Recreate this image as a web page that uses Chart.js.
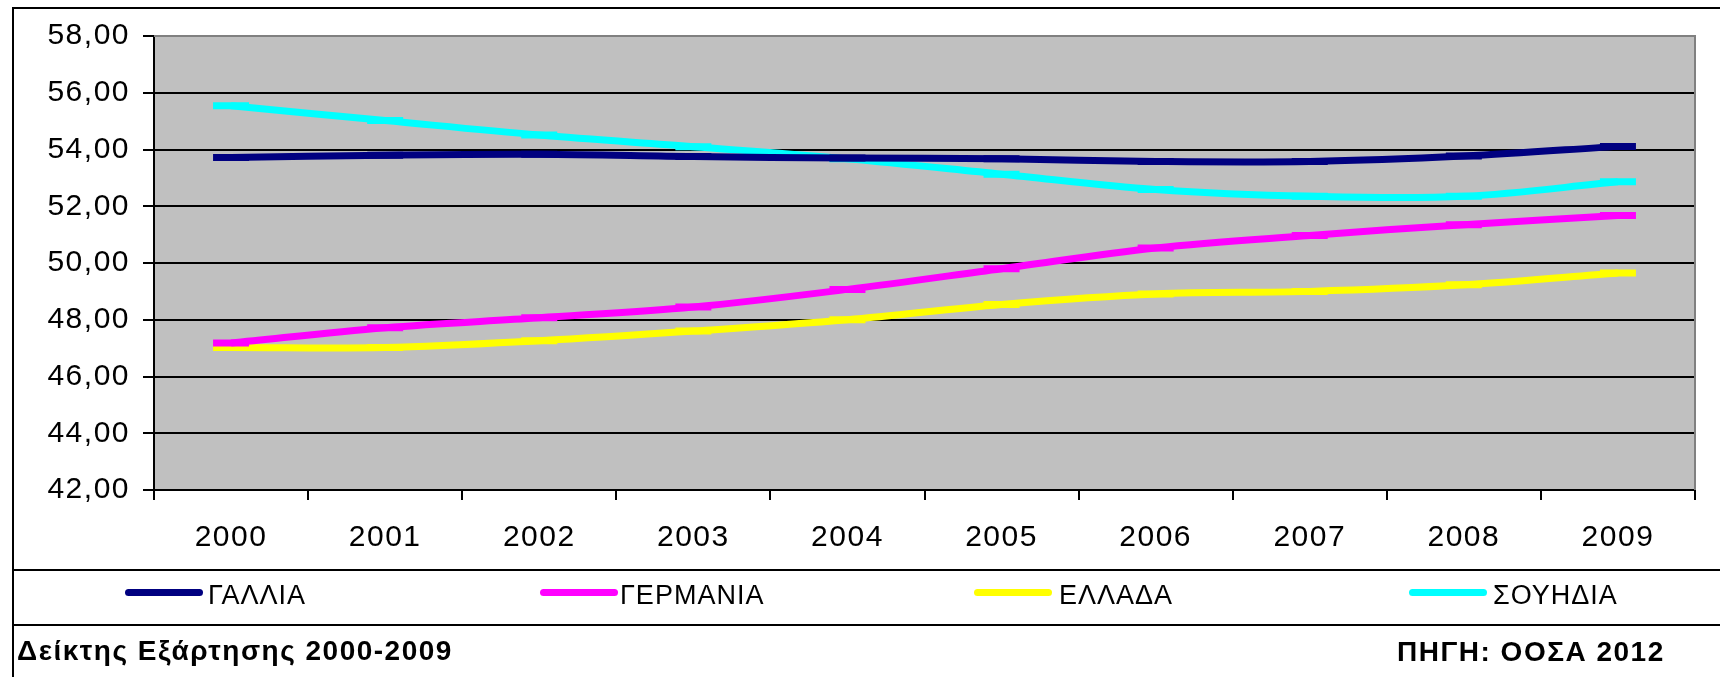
<!DOCTYPE html>
<html>
<head>
<meta charset="utf-8">
<script src="https://cdn.jsdelivr.net/npm/chart.js@4.4.1/dist/chart.umd.min.js"></script>
<style>
  html, body { margin: 0; padding: 0; background: #fff; width: 1720px; height: 677px; overflow: hidden; }
  #wrap { position: relative; width: 1720px; height: 677px; font-family: "Liberation Sans", Arial, sans-serif; }
  #c { position: absolute; left: 0; top: 0; }
  .rule { position: absolute; background: #000; }
  .leg-line { position: absolute; height: 7px; width: 78px; border-radius: 4px; }
  .leg-text { position: absolute; font-size: 27px; line-height: 27px; letter-spacing: 1px; color: #000; white-space: nowrap; }
  .foot { position: absolute; font-size: 28px; line-height: 28px; letter-spacing: 1.5px; font-weight: bold; color: #000; white-space: nowrap; }
</style>
</head>
<body>
<div id="wrap">
  <canvas id="c" width="1720" height="677"></canvas>
  <div class="rule" style="left:12px;top:7px;width:1708px;height:2px;"></div>
  <div class="rule" style="left:12px;top:7px;width:2px;height:670px;"></div>
  <div class="rule" style="left:12px;top:569px;width:1708px;height:2px;"></div>
  <div class="rule" style="left:12px;top:624px;width:1708px;height:2px;"></div>
  <div id="legend"></div>
  <div class="foot" style="left:17px;top:637px;">Δείκτης Εξάρτησης 2000-2009</div>
  <div class="foot" style="left:1397px;top:638px;">ΠΗΓΗ: ΟΟΣΑ 2012</div>
</div>
<script>
// ---- data ----
const categories = ['2000', '2001', '2002', '2003', '2004', '2005', '2006', '2007', '2008', '2009'];
const seriesNames = ['ΓΑΛΛΙΑ', 'ΓΕΡΜΑΝΙΑ', 'ΕΛΛΑΔΑ', 'ΣΟΥΗΔΙΑ'];
const seriesColors = ['#000080', '#FF00FF', '#FFFF00', '#00FFFF'];
const gallia   = [53.72, 53.80, 53.83, 53.75, 53.70, 53.67, 53.58, 53.58, 53.77, 54.11];
const germania = [47.18, 47.72, 48.07, 48.45, 49.07, 49.80, 50.53, 50.97, 51.35, 51.67];
const ellada   = [47.02, 47.02, 47.26, 47.60, 48.00, 48.54, 48.91, 49.00, 49.23, 49.65];
const souhdia  = [55.54, 55.02, 54.51, 54.10, 53.67, 53.13, 52.59, 52.35, 52.35, 52.86];
const seriesValues = [gallia, germania, ellada, souhdia];
const yMin = 42, yMax = 58, yStep = 2;

// ---- legend (HTML) ----
const legLineX = [125, 540, 974, 1409];
const legTextX = [208, 620, 1059, 1493];
const legend = document.getElementById('legend');
seriesNames.forEach((name, i) => {
  const l = document.createElement('div');
  l.className = 'leg-line';
  l.style.left = legLineX[i] + 'px';
  l.style.top = '589px';
  l.style.background = seriesColors[i];
  legend.appendChild(l);
  const t = document.createElement('div');
  t.className = 'leg-text';
  t.style.left = legTextX[i] + 'px';
  t.style.top = '582px';
  t.textContent = name;
  legend.appendChild(t);
});

// ---- plot background + text spacing plugin ----
const plotBg = {
  id: 'plotBg',
  beforeLayout(chart) { chart.ctx.letterSpacing = '1.5px'; },
  beforeDraw(chart) {
    const { ctx, chartArea: a } = chart;
    ctx.letterSpacing = '1.5px';
    ctx.save();
    ctx.fillStyle = '#C0C0C0';
    ctx.fillRect(a.left, a.top, a.right - a.left, a.bottom - a.top);
    ctx.restore();
  },
  beforeDatasetsDraw(chart) {
    const { ctx, chartArea: a } = chart;
    ctx.save();
    ctx.strokeStyle = '#808080';
    ctx.lineWidth = 2;
    ctx.beginPath();
    ctx.moveTo(a.left, a.top);
    ctx.lineTo(a.right, a.top);
    ctx.lineTo(a.right, a.bottom);
    ctx.stroke();
    ctx.restore();
  }
};

const font = { family: '"Liberation Sans", Arial, sans-serif', size: 30 };

new Chart(document.getElementById('c'), {
  type: 'line',
  data: {
    labels: categories,
    datasets: seriesValues.map((vals, i) => ({
      label: seriesNames[i],
      data: vals,
      borderColor: seriesColors[i],
      backgroundColor: seriesColors[i],
      borderWidth: 7,
      tension: 0.35,
      fill: false,
      pointStyle: 'line',
      pointRadius: 18,
      pointBorderWidth: 7,
      pointBorderColor: seriesColors[i],
      pointHoverRadius: 18
    }))
  },
  options: {
    responsive: false,
    animation: false,
    events: [],
    layout: { padding: { left: 0, top: 36, right: 8, bottom: 107 } },
    plugins: { legend: { display: false }, tooltip: { enabled: false }, title: { display: false } },
    scales: {
      x: {
        offset: true,
        grid: { offset: true, drawOnChartArea: false, drawTicks: true, tickLength: 10, color: '#000', lineWidth: 2 },
        border: { display: true, color: '#000', width: 2 },
        ticks: { color: '#000', font: font, padding: 20, maxRotation: 0, autoSkip: false },
        afterFit(scale) { scale.height = 80; }
      },
      y: {
        min: yMin, max: yMax,
        grid: {
          color: (c) => (c.tick && c.tick.value === yMax ? '#808080' : '#000'),
          tickColor: '#000',
          lineWidth: 2,
          tickLength: 11
        },
        border: { display: true, color: '#000', width: 2 },
        ticks: {
          stepSize: yStep,
          color: '#000',
          font: font,
          padding: 13,
          callback: (v) => v.toFixed(2).replace('.', ',')
        },
        afterFit(scale) { scale.width = 154; }
      }
    }
  },
  plugins: [plotBg]
});
</script>
</body>
</html>
